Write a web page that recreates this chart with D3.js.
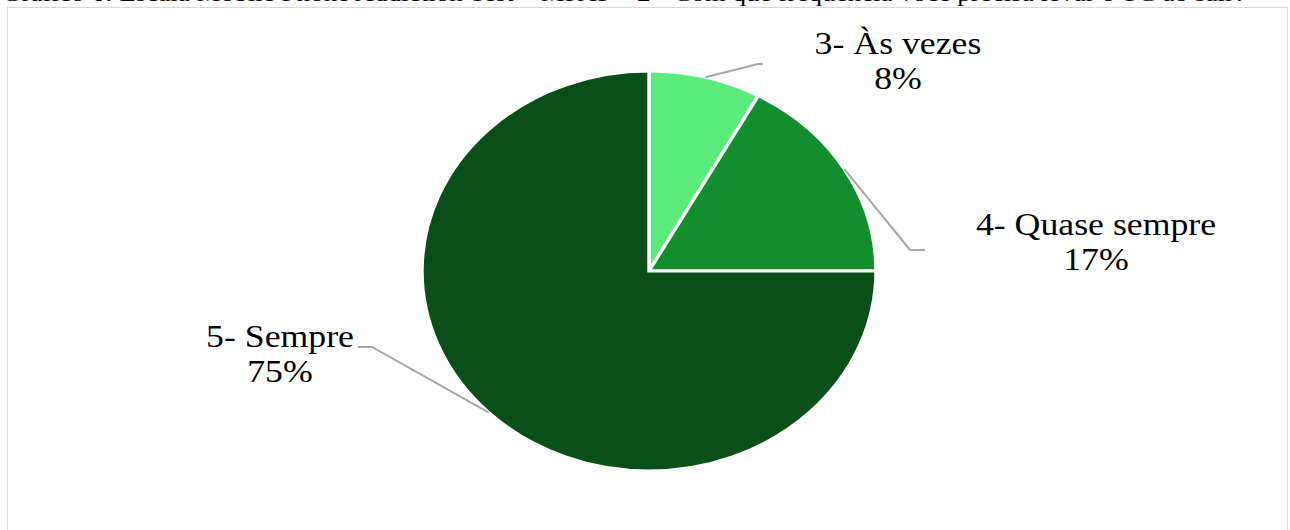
<!DOCTYPE html>
<html>
<head>
<meta charset="utf-8">
<script src="https://cdn.jsdelivr.net/npm/d3@7"></script>
<style>
  html, body { margin: 0; padding: 0; background: #fff; }
  svg { display: block; }
</style>
</head>
<body>
<svg id="chart" width="1290" height="530"></svg>
<script>
// Response categories and their shares (%)
const categories = ["3- Às vezes", "4- Quase sempre", "5- Sempre"];
const shares = [8, 17, 75];
const colors = ["#5aeb7b", "#128e2f", "#0a4f1a"];
const title = "Gráfico 6: Escala Mobile Phone Addiction Test – MPAT – 2 - Com que frequência você precisa levar o TC ao sair?";

const svg = d3.select("#chart");
const W = 1290, H = 530;

// Caption sitting above the frame (top of it runs off the page)
svg.append("text")
  .attr("x", 2).attr("y", 1)
  .attr("font-family", "Liberation Serif, Times New Roman, serif")
  .attr("font-size", 22)
  .attr("fill", "#000")
  .attr("textLength", 1244)
  .attr("lengthAdjust", "spacingAndGlyphs")
  .text(title);

// Chart frame
svg.append("rect")
  .attr("x", 7.5).attr("y", 7.5)
  .attr("width", 1280).attr("height", 540)
  .attr("fill", "#fff")
  .attr("stroke", "#d9d9d9").attr("stroke-width", 1);

// Pie geometry (slightly wider than tall)
const cx = 649, cy = 271, R = 200, sx = 1.135;

const pie = d3.pie().sort(null).value(d => d.v).startAngle(0).endAngle(2 * Math.PI);
const data = categories.map((c, i) => ({ c, v: shares[i], color: colors[i] }));
const arcs = pie(data);
const arc = d3.arc().innerRadius(0).outerRadius(R);

const g = svg.append("g").attr("transform", `translate(${cx},${cy}) scale(${sx},1)`);
g.selectAll("path")
  .data(arcs)
  .join("path")
  .attr("d", arc)
  .attr("fill", d => d.data.color)
  .attr("stroke", "#fff")
  .attr("stroke-width", 3)
  .attr("stroke-linejoin", "miter");

// Point on the rim at a slice's mid-angle, in page coordinates
function rimPoint(d) {
  const a = (d.startAngle + d.endAngle) / 2;
  return [cx + Math.sin(a) * R * sx, cy - Math.cos(a) * R];
}

// Label layout: elbow of the leader, leader end, label centre and first baseline
const labelLayout = [
  { elbow: [758, 64], end: [763, 64], tx: 898, ty: 54 },
  { elbow: [910, 250], end: [925, 250], tx: 1096, ty: 235 },
  { elbow: [372, 347], end: [358, 347], tx: 280, ty: 347 }
];

const line = d3.line();
arcs.forEach((d, i) => {
  const L = labelLayout[i];
  svg.append("path")
    .attr("d", line([rimPoint(d), L.elbow, L.end]))
    .attr("fill", "none")
    .attr("stroke", "#a6a6a6")
    .attr("stroke-width", 2);

  const t = svg.append("g")
    .attr("transform", `translate(${L.tx},${L.ty}) scale(${sx},1)`);
  const txt = t.append("text")
    .attr("text-anchor", "middle")
    .attr("font-family", "Liberation Serif, Times New Roman, serif")
    .attr("font-size", 31.5)
    .attr("fill", "#000");
  txt.append("tspan").attr("x", 0).attr("y", 0).text(d.data.c);
  txt.append("tspan").attr("x", 0).attr("y", 35.5).text(d3.format(".0f")(d.data.v) + "%");
});
</script>
</body>
</html>
